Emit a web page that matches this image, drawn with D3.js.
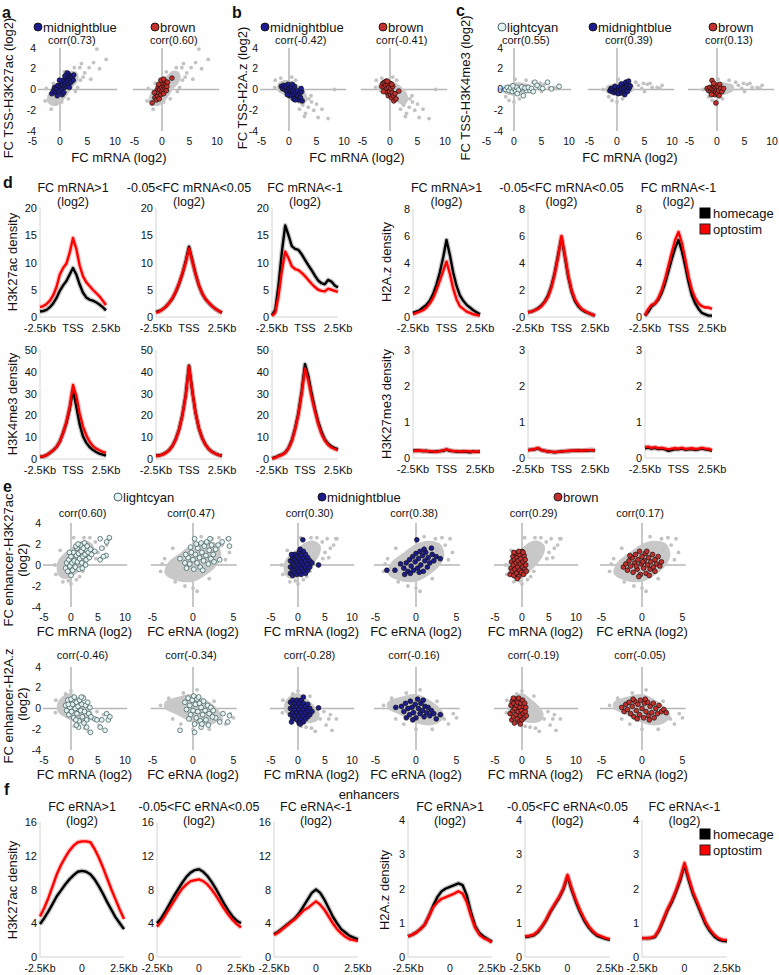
<!DOCTYPE html>
<html><head><meta charset="utf-8">
<script src="https://cdn.jsdelivr.net/npm/d3@7"></script>
<style>body{margin:0;background:#fff}svg{display:block}text{font-family:'Liberation Sans',Arial,sans-serif;fill:#111}</style>
</head><body><script>
// ---------------- DATA ----------------
const kb=[-2.5,-2.25,-2,-1.75,-1.5,-1.25,-1,-0.75,-0.5,-0.25,0,0.25,0.5,0.75,1,1.25,1.5,1.75,2,2.25,2.5];
const mrnaTicks=[-5,0,5,10], ernaTicks=[-5,0,5], fcTicks=[4,2,0,-2,-4];

// panel a (TSS-H3K27ac vs mRNA)
const grayA_cloud=[[-2.2,-1.3],[-1.2,-1.6],[0,-1.4],[1,-0.8],[2,0],[3,0.6],[3.4,1.2],[3,1.7],[2,1.8],[1,1.4],[0,0.8],[-1,0.3],[-2,-0.3],[-2.4,-0.9]];
const grayA_pts=[[3.9,2.5],[6.7,3.9],[8.4,2.9],[5.3,2.1],[6.1,2.6],[5.6,1.0],[4.5,1.6],[3.6,2.1],[4.2,1.2],[-2.7,-1.1],[-1.6,-1.9],[0.3,-1.2],[-0.8,-1.4],[2.8,-0.2],[3.7,0.9],[-2.5,0.1],[1.5,-0.9],[7.2,2.0],[2.6,2.1],[-1.2,0.6],[0.8,1.7],[3.2,0.2]];
const a_mb=[[-1.5,-0.4],[-1.2,-0.1],[-1,0.2],[-0.8,-0.3],[-0.6,0.1],[-0.4,0.4],[-0.2,-0.2],[0,0.3],[0.2,0.6],[0.3,0],[0.5,0.4],[0.6,0.9],[0.8,0.2],[1,0.6],[1.1,1.1],[1.2,0.3],[1.4,0.8],[1.5,1.5],[1.6,0.5],[1.8,1],[1.9,1.3],[2,0.7],[2.2,1.2],[2.4,0.9],[0.4,-0.5],[-0.5,-0.6],[1.3,1.6],[0.9,1.3],[2.5,1.4],[-0.1,0.9],[0.7,-0.3],[1.7,0.2]];
const a_br=[[-1.8,-1.3],[1.8,1.1],[-1.3,-0.8],[-1.1,-0.4],[-1,-1],[-0.9,-0.1],[-0.8,-0.6],[-0.7,0.2],[-0.6,-0.3],[-0.5,-0.9],[-0.4,0],[-0.3,0.4],[-0.2,-0.5],[-0.1,0.2],[0,-0.2],[0.1,0.6],[0.2,0],[0.3,-0.4],[0.4,0.3],[0.5,0.8],[0.6,0.1],[0.7,0.5],[0.8,-0.1],[0.9,0.3],[1.0,0.7],[-1.4,-0.3],[-0.2,0.9],[0.3,1.0],[-0.6,0.5]];
// panel b (TSS-H2A.z vs mRNA)
const grayB_cloud=[[-2,0.6],[-1,0.9],[0.5,0.8],[2,0.3],[3,-0.3],[3.3,-1],[2.5,-1.5],[1.5,-1.3],[0,-0.9],[-1,-0.5],[-2,-0.2]];
const grayB_pts=[[5.0,-1.4],[5.3,-2.7],[7.1,-2.8],[2.5,-1.5],[3.5,-1.7],[1.9,-1.9],[8.3,0],[4.1,-1.2],[4.5,-2.0],[6.0,-1.9],[3.0,-2.3],[-2.5,0.9],[-1.5,1.1],[0.5,1.2],[4.0,-0.6],[2.8,-2.6],[-2.6,0.2],[1.2,0.9],[3.6,-0.9]];
const b_mb=[[-1.4,0.3],[-1.2,0.1],[-1,0.4],[-0.8,0],[-0.6,0.3],[-0.4,-0.2],[-0.2,0.5],[0,0.1],[0.2,-0.3],[0.4,0.2],[0.5,-0.5],[0.7,-0.1],[0.9,-0.6],[1.0,0.3],[1.2,-0.3],[1.3,-0.8],[1.5,-0.1],[1.6,-0.6],[1.8,-1],[2.0,-0.4],[2.1,-0.8],[2.3,-0.2],[2.4,-1.1],[0.8,-0.9],[0.1,-0.6],[-0.3,-0.5],[1.1,-1.0],[2.2,0.1],[0.6,0.5]];
const b_br=[[-1.5,0.3],[-1.3,0.6],[-1.1,0.2],[-1.0,0.7],[-0.9,-0.1],[-0.8,0.4],[-0.7,0.8],[-0.6,0.1],[-0.5,-0.3],[-0.4,0.5],[-0.3,-0.6],[-0.2,0.2],[-0.1,-0.2],[0,0.6],[0.1,-0.5],[0.2,0.1],[0.3,-0.8],[0.4,-0.3],[0.5,0.3],[0.6,-0.6],[0.7,-1.1],[0.9,-0.4],[1.1,-0.9],[1.6,-0.15],[-0.5,0.8],[-1.2,-0.2],[0.3,0.5]];
// panel c (TSS-H3K4me3 vs mRNA)
const grayC_cloud=[[-2,-0.3],[-1,-0.5],[0.5,-0.6],[2,-0.4],[3,-0.1],[3,0.4],[2,0.6],[0.5,0.7],[-1,0.5],[-2,0.3]];
const grayC_pts=[[3.9,0.4],[5.5,0.5],[6.4,0.2],[8.2,0.4],[4.5,0.1],[7.3,0.2],[-0.9,-1.05],[0,-1.2],[3.4,0.7],[5,-0.2],[6,0.6],[-2.5,0],[1,-0.9],[2.2,0.9],[7.8,0.1],[4.8,0.6],[0.2,1.0],[-1.5,-0.7]];
const c_lc=[[1.1,0.06],[2.3,-0.1],[3.8,0.7],[4.7,0.2],[6.1,0.7],[6.8,0.06],[8.2,0.3],[1.7,-0.6],[2.9,-0.1],[-1.5,0],[-1.2,0.2],[-0.9,-0.1],[-0.6,0.15],[-0.3,-0.2],[0,0.1],[0.3,-0.15],[0.5,0.2],[0.8,-0.05],[1.4,0.25],[2.0,0.15],[2.6,0.2],[3.2,0.1],[3.5,-0.2],[4.2,0.4],[5.2,0.1],[0.6,-0.4],[-0.2,0.35]];
const c_mb=[[-1.3,-0.1],[-1.1,0.1],[-0.9,-0.2],[-0.7,0.05],[-0.5,-0.3],[-0.3,0.1],[-0.1,-0.15],[0.1,0.2],[0.3,-0.05],[0.5,0.25],[0.7,0],[0.9,0.35],[1.1,0.1],[1.3,0.5],[1.5,0.2],[1.6,0.7],[1.8,0.3],[2.0,0.5],[2.2,0.1],[2.4,0.35],[1.2,-0.3],[0.6,-0.35],[1.9,-0.2],[2.1,0.8],[0.2,-0.4],[-0.4,0.3],[1.4,-0.5],[0.8,0.55]];
const c_br=[[-1.8,0.1],[-1.5,-0.1],[-1.3,0.2],[-1.1,-0.2],[-0.9,0.87],[-0.9,0.1],[-0.7,-0.3],[-0.6,0.3],[-0.5,0],[-0.4,-0.5],[-0.3,0.2],[-0.2,-0.2],[-0.1,0.4],[0,0],[0.1,-0.4],[0.2,0.2],[0.3,-0.1],[0.5,0.5],[0.7,0.1],[0.9,-0.2],[1.2,0.1],[-0.2,-1.3],[-0.6,0.6],[0.4,-0.6],[-1.0,-0.5]];
const corrTop=["corr(0.73)","corr(0.60)","corr(-0.42)","corr(-0.41)","corr(0.55)","corr(0.39)","corr(0.13)"];

// panel e, H3K27ac row
const grayE1m_cloud=[[-2.5,-0.8],[-1.5,-1.3],[0,-1.2],[1.5,-0.6],[3,0.2],[4,1],[4.2,1.8],[3,2.3],[1.5,2.2],[0,1.6],[-1.5,1.0],[-2.5,0.3]];
const grayE1m_pts=[[0,-1.8],[-0.5,-1.5],[-1.5,-1.6],[5.4,2.5],[7,2.5],[6,1.6],[5.7,0.7],[6.6,1.9],[4.5,2.2],[0.5,2.6],[-2,1.4],[1,-1.4],[5,1.2],[3.5,2.6],[2.2,-0.6],[-3,0],[7.2,2.5],[4.6,0.6],[-2.8,-0.9],[2.4,2.6],[1.6,-1.1]];
const grayE1e_cloud=[[-3.5,-0.8],[-2,-1.5],[0,-1.6],[1.5,-1],[3,0],[3.5,1],[3,2],[1.5,2.3],[0,2],[-1.5,1.2],[-3,0.3]];
const grayE1e_pts=[[-4,-0.6],[-3.5,0.6],[4.2,2.5],[3.6,1.9],[2.6,1.4],[4.5,1.2],[0,-2.2],[-1,-2.0],[1,2.7],[-2.5,1.6],[2,-1.3],[4,0.5],[0.5,-2.5],[3.2,2.6],[-2.2,-1.6],[-3.8,0.1],[2.4,2.5]];
const e1_lc_m=[[5.4,2.5],[5.7,1.6],[7.1,2.6],[6.6,2.2],[6.5,0.9],[5.4,0.5],[6.0,0.8],[4.4,1.3],[2.9,1.4],[-1.0,-0.3],[-0.8,0.2],[-0.6,-0.6],[-0.4,0.5],[-0.2,-0.1],[0,0.8],[0.2,0.2],[0.3,-0.5],[0.5,1.2],[0.6,0.4],[0.8,-0.2],[1.0,0.9],[1.1,1.6],[1.2,0.3],[1.4,1.1],[1.5,-0.4],[1.6,0.6],[1.8,1.9],[1.9,1.3],[2.0,0.2],[2.2,0.8],[2.3,1.6],[2.5,2.1],[2.6,1.0],[2.8,0.5],[3.0,1.8],[3.2,1.2],[3.4,0.7],[3.6,1.5],[3.8,1.0],[0.0,-1.0],[0.9,1.8],[2.1,-0.3],[-0.3,1.2],[1.3,2.0],[2.7,0.0]];
const e1_lc_e=[[-1.6,0.6],[3.1,1.9],[3.6,2.2],[4.5,1.8],[4.4,2.5],[3.3,0.5],[2.5,1.0],[-1.0,0.2],[-0.8,-0.3],[-0.6,0.7],[-0.4,0.1],[-0.2,1.2],[0,0.5],[0.1,-0.4],[0.2,2.5],[0.3,1.0],[0.5,0.2],[0.6,1.6],[0.8,0.7],[0.9,-0.2],[1.0,2.1],[1.1,1.2],[1.3,0.4],[1.4,1.8],[1.6,0.9],[1.7,2.2],[1.9,0.1],[2.0,1.4],[2.2,0.6],[2.3,1.9],[2.6,0.3],[2.8,1.5],[0.4,2.0],[-0.3,1.7],[1.2,-0.5],[-0.9,1.0],[2.1,2.5]];
const e1_mb_m=[[-1.4,-0.8],[-1.4,-0.2],[-1.4,0.4],[-1.0,-1.0],[-1.0,-0.5],[-1.0,0.1],[-1.0,0.7],[-0.6,-0.7],[-0.6,-0.1],[-0.6,0.5],[-0.6,1.0],[-0.2,-0.9],[-0.2,-0.3],[-0.2,0.3],[-0.2,0.8],[0.2,-0.6],[0.2,0],[0.2,0.6],[0.2,1.2],[0.6,-0.9],[0.6,-0.3],[0.6,0.3],[0.6,0.9],[1.0,-0.6],[1.0,0],[1.0,0.6],[1.0,1.3],[1.4,-0.8],[1.4,-0.2],[1.4,0.4],[1.4,1.0],[1.8,-0.5],[1.8,0.1],[1.8,0.7],[2.2,-0.2],[2.2,0.4],[0.9,2.4],[3.8,0],[-1.2,1.0],[0.4,1.5],[2.6,0.2]];
const e1_mb_e=[[-1.5,-0.3],[-1.2,0.2],[-1.0,-0.6],[-0.8,0.5],[-0.6,-0.1],[-0.4,0.8],[-0.3,-0.5],[-0.1,0.3],[0,1.1],[0.2,-0.3],[0.3,0.6],[0.5,1.3],[0.6,0],[0.8,0.9],[0.9,-0.6],[1.1,0.4],[1.2,1.2],[1.4,-0.2],[1.5,0.7],[1.7,0.2],[2.0,1.0],[2.2,0.4],[2.5,0.8],[3.0,0.6],[-0.7,-0.8],[0.4,-0.7],[1.0,1.5],[-1.9,0.1],[0.1,2.4],[-2.6,-0.5],[-1.4,-0.9],[1.9,1.6],[-3.6,-0.5]];
const e1_br_m=[[-2.2,-0.9],[-2.0,-0.3],[-1.9,0.3],[-1.8,-0.6],[-1.7,0.8],[-1.6,0.0],[-1.5,-1.0],[-1.4,0.5],[-1.3,-0.4],[-1.2,1.1],[-1.1,0.2],[-1.0,-0.8],[-0.9,0.7],[-0.8,-0.2],[-0.7,0.4],[-0.6,-1.1],[-0.5,1.0],[-0.4,-0.5],[-0.3,0.1],[-0.2,0.6],[-0.1,-0.7],[0,1.3],[0.1,-0.2],[0.2,0.3],[0.3,-0.9],[0.4,0.9],[0.5,-0.4],[0.6,0.5],[0.7,0],[0.8,-0.6],[-0.6,1.3],[0.2,1.2],[-1.5,1.2],[-0.9,-1.3]];
const e1_br_e=[[-2.3,-0.2],[-2.0,0.1],[-1.8,-0.5],[-1.6,0.4],[-1.4,-0.1],[-1.2,0.7],[-1.1,-0.7],[-0.9,0.2],[-0.8,1.0],[-0.6,-0.4],[-0.5,0.5],[-0.3,1.3],[-0.2,-0.9],[-0.1,0.1],[0,0.8],[0.2,-0.3],[0.3,0.4],[0.4,1.1],[0.5,-0.8],[0.7,0],[0.8,0.7],[1.0,-0.4],[1.1,0.3],[1.3,1.0],[1.4,-0.2],[1.6,0.5],[1.8,0.1],[2.0,0.8],[2.2,-0.1],[2.4,0.3],[-0.4,-1.1],[0.9,-1.0],[-1.5,0.9],[0.6,1.3],[1.6,-0.6],[-0.7,-0.1],[0.1,0.3]];
const corrE1=["corr(0.60)","corr(0.47)","corr(0.30)","corr(0.38)","corr(0.29)","corr(0.17)"];

// panel e, H2A.z row
const grayE2m_cloud=[[-2.5,0.5],[-1.5,1.2],[0,1.5],[1.5,1],[3,0.3],[4,-0.5],[3.5,-1.2],[2,-1.4],[0.5,-1.3],[-1,-0.9],[-2.5,-0.3]];
const grayE2m_pts=[[0,1.7],[4.1,-1.0],[5.7,-1.0],[5.2,-1.6],[6.3,-2.1],[7.1,-1.0],[3.2,-2.2],[-2.8,0.8],[1.5,-1.8],[4.8,-0.3],[6.0,-0.6],[2.5,-1.9],[-1,1.4],[-2.9,-0.4],[2.2,1.2],[0.6,-1.7]];
const grayE2e_cloud=[[-3.5,0.6],[-2,1.1],[0,1.4],[1.5,0.9],[3,0],[3.5,-0.8],[2.5,-1.5],[1,-1.6],[-0.5,-1.2],[-2,-0.6],[-3.5,0]];
const grayE2e_pts=[[-4,0.3],[4,-1.5],[3.5,-1],[4.6,-0.5],[0,-2.0],[-1.5,-1.5],[0.5,1.8],[-3,1.0],[2,-2],[5.0,-0.9],[-2.5,-1],[-1.2,1.5],[2.6,0.7]];
const e2_lc_m=[[1.4,-1.8],[2.9,-1.8],[3.6,-2.3],[4.4,-1.0],[5.4,-1.8],[5.7,-1.1],[6.6,-0.5],[6.9,-1.1],[7.2,-0.8],[6.3,-2.1],[4.8,-1.1],[1.0,-1.6],[-1.0,0.3],[-0.8,-0.2],[-0.6,0.8],[-0.4,-0.6],[-0.2,0.1],[0,0.9],[0.1,-0.3],[0.3,0.4],[0.5,-0.9],[0.6,1.1],[0.8,0.0],[1.0,0.6],[1.1,-0.5],[1.3,0.2],[1.5,-1.2],[1.6,0.8],[1.8,-0.2],[2.0,0.4],[2.1,-0.8],[2.3,1.0],[2.5,-0.3],[2.7,0.3],[2.9,-1.1],[3.1,0.6],[3.3,-0.5],[3.5,0.1],[3.7,-0.8],[2.4,-1.4],[0.9,-1.1],[-0.5,0.4],[1.9,1.1]];
const e2_lc_e=[[-1.6,-2.1],[0.2,-2.3],[1.0,-1.8],[1.9,-1.6],[2.8,-0.9],[3.3,-1.3],[4.5,-0.7],[4.3,-1.3],[3.7,-0.5],[-1.0,0.6],[-0.8,-0.1],[-0.6,1.0],[-0.4,0.3],[-0.3,-0.6],[-0.1,0.8],[0,-0.2],[0.1,1.2],[0.3,0.4],[0.4,-0.9],[0.5,0.9],[0.6,-0.3],[0.8,0.5],[0.9,-1.2],[1.0,0.1],[1.2,-0.6],[1.3,0.7],[1.5,-0.2],[1.6,-1.1],[1.8,0.3],[2.0,-0.5],[2.2,0.1],[2.4,-0.8],[2.5,-0.2],[0.2,-1.5],[-0.5,-1.0],[1.1,-1.5],[0.7,1.1]];
const e2_mb_m=[[-1.4,0.6],[-1.4,0],[-1.4,-0.6],[-1.0,0.8],[-1.0,0.2],[-1.0,-0.4],[-1.0,-1.0],[-0.6,0.5],[-0.6,-0.1],[-0.6,-0.7],[-0.2,0.8],[-0.2,0.2],[-0.2,-0.4],[-0.2,-1.1],[0.2,0.5],[0.2,-0.1],[0.2,-0.7],[0.2,-1.4],[0.6,0.8],[0.6,0.2],[0.6,-0.4],[0.6,-1.0],[1.0,0.5],[1.0,-0.1],[1.0,-0.7],[1.0,-1.3],[1.4,0.2],[1.4,-0.4],[1.4,-1.0],[1.8,0.4],[1.8,-0.2],[1.8,-0.8],[2.2,0],[2.2,-0.6],[2.6,-0.3],[1.0,1.1],[3.8,0.06],[-1.2,-1.3],[0.4,-1.5]];
const e2_mb_e=[[-1.8,0.2],[-1.5,-0.3],[-1.3,0.5],[-1.0,0],[-0.8,-0.6],[-0.7,0.7],[-0.5,0.1],[-0.3,-0.4],[-0.1,0.4],[0,-0.9],[0.2,0.9],[0.3,0],[0.5,-0.5],[0.6,0.5],[0.8,-0.2],[1.0,-0.8],[1.1,0.2],[1.3,-0.4],[1.5,0.1],[1.7,-0.7],[1.9,-0.2],[2.2,-0.5],[2.5,-1.0],[-2.5,0.1],[-0.4,-1.1],[0.9,0.8],[3.0,-0.6],[-1.2,-0.9]];
const e2_br_m=[[-2.2,-0.5],[-2.0,0.3],[-1.9,-1.1],[-1.8,0.7],[-1.7,-0.2],[-1.6,-0.8],[-1.5,0.5],[-1.4,-1.4],[-1.3,0.0],[-1.2,0.9],[-1.1,-0.6],[-1.0,0.3],[-0.9,-1.0],[-0.8,0.6],[-0.7,-0.3],[-0.6,1.0],[-0.5,-1.3],[-0.4,0.1],[-0.3,-0.7],[-0.2,0.5],[-0.1,-0.2],[0,-1.1],[0.1,0.8],[0.2,-0.5],[0.3,0.2],[0.4,-0.9],[0.5,0.5],[0.6,-0.3],[0.7,0.1],[0.8,-0.7],[-1.6,1.0],[-0.3,-1.5]];
const e2_br_e=[[-2.5,0.1],[-2.2,-0.3],[-2.0,0.4],[-1.8,-0.1],[-1.6,0.6],[-1.4,-0.5],[-1.2,0.2],[-1.0,-0.8],[-0.9,0.7],[-0.7,-0.2],[-0.5,0.4],[-0.3,-0.6],[-0.2,0.8],[0,0],[0.2,-0.9],[0.3,0.5],[0.5,-0.3],[0.7,0.6],[0.8,-0.7],[1.0,0.2],[1.2,-0.4],[1.4,0.5],[1.5,-0.9],[1.7,0],[1.9,-0.5],[2.1,0.3],[2.4,-0.3],[2.7,-0.1],[3.0,-0.4],[-0.6,-1.0],[0.9,-1.1],[-1.1,0.9],[0.4,0.9]];
const corrE2=["corr(-0.46)","corr(-0.34)","corr(-0.28)","corr(-0.16)","corr(-0.19)","corr(-0.05)"];

// panel d profiles (TSS, -2.5..2.5 kb)
const dTitles=[["FC mRNA>1","(log2)"],["-0.05<FC mRNA<0.05","(log2)"],["FC mRNA<-1","(log2)"]];
const k27_up_home=[1.0,1.1,1.3,1.8,2.5,3.5,4.8,5.8,6.6,7.8,9.0,7.8,6.0,4.5,3.6,3.2,3.0,2.7,2.3,1.8,1.2];
const k27_up_opto=[1.8,2.0,2.4,3.0,4.0,5.5,7.8,9.0,9.8,11.8,14.5,12.5,9.5,7.5,6.4,5.7,5.0,4.4,3.8,3.0,2.2];
const k27_mid_home=[0.9,1.1,1.4,1.9,2.6,3.4,4.6,6.1,7.9,10.2,12.9,10.4,7.9,5.8,4.3,3.3,2.6,2.0,1.5,1.1,0.8];
const k27_mid_opto=[0.8,1.0,1.4,1.9,2.6,3.5,4.7,6.2,8.0,10.0,12.6,10.2,7.8,5.8,4.3,3.3,2.6,2.0,1.5,1.1,0.8];
const k27_dn_home=[0.3,1.3,6,12,16.8,15,13,12.5,12.3,11.5,10.5,9.5,8.6,7.6,6.7,6.2,6.0,6.8,6.5,5.8,5.4];
const k27_dn_opto=[0.2,0.8,4,8.5,12,10.8,9.3,8.8,8.6,8.1,7.5,6.8,6.1,5.5,5.0,4.8,4.7,5.2,5.0,4.8,4.6];
const h2az_up_home=[0.3,0.4,0.5,0.7,0.9,1.2,1.7,2.4,3.3,4.4,5.7,4.6,3.3,2.3,1.6,1.2,0.9,0.7,0.5,0.35,0.2];
const h2az_up_opto=[0.2,0.3,0.4,0.5,0.7,1.0,1.4,2.0,2.7,3.4,4.1,3.2,2.1,1.3,0.8,0.6,0.4,0.3,0.2,0.15,0.1];
const h2az_mid_home=[0.35,0.4,0.5,0.65,0.85,1.15,1.6,2.3,3.3,4.6,5.9,4.5,3.0,1.9,1.2,0.8,0.55,0.4,0.3,0.2,0.1];
const h2az_mid_opto=[0.35,0.4,0.5,0.6,0.8,1.1,1.5,2.2,3.2,4.5,6.0,4.6,3.1,2.0,1.3,0.9,0.6,0.45,0.3,0.2,0.1];
const h2az_dn_home=[0.1,0.4,0.8,1.0,1.3,1.8,2.5,3.4,4.3,5.1,5.7,4.9,3.8,2.6,1.6,1.0,0.6,0.3,0.2,0.1,0.1];
const h2az_dn_opto=[0.1,0.6,0.9,1.0,1.4,2.0,2.8,3.8,4.8,5.7,6.3,5.5,4.3,3.0,2.0,1.4,1.0,0.8,0.7,0.7,0.6];
const k4_up_home=[1,1.2,1.8,2.8,4,5.5,8,12,16.5,23,31.5,24,16,10.5,7.5,5.5,4.2,3.2,2.5,2,1.5];
const k4_up_opto=[1,1.2,1.8,2.8,4,5.5,8,12,17,24,34,29,21,15,11,8,6,4.8,4,3.3,2.8];
const k4_mid_home=[1.5,1.7,2.1,2.9,4.1,6.1,9.1,13.6,20.2,29.3,42.8,31.2,21.1,14.1,9.6,6.6,4.6,3.3,2.5,1.9,1.5];
const k4_mid_opto=[1.4,1.6,2.0,2.8,4,6,9,13.5,20,29,42.5,31,21,14,9.5,6.5,4.5,3.2,2.4,1.8,1.4];
const k4_dn_home=[0.3,0.8,1.5,2.0,3.0,5.0,8.5,14,21,31,43.5,38,30,23,17,12.5,9,7,5.8,5,4.5];
const k4_dn_opto=[0.2,0.6,1.3,1.9,2.8,4.8,8.2,13.5,20.5,30,41.5,36,28.5,22,16,11.5,8.5,6.5,5.3,4.6,4.0];
const k27me3_up_home=[0.2,0.21,0.2,0.19,0.2,0.18,0.17,0.18,0.19,0.2,0.23,0.2,0.19,0.18,0.17,0.18,0.17,0.16,0.18,0.17,0.18];
const k27me3_up_opto=[0.19,0.2,0.21,0.2,0.19,0.19,0.18,0.17,0.19,0.21,0.24,0.21,0.19,0.19,0.18,0.18,0.19,0.18,0.17,0.18,0.18];
const k27me3_mid_home=[0.22,0.23,0.24,0.27,0.22,0.2,0.18,0.17,0.16,0.17,0.18,0.19,0.19,0.2,0.2,0.21,0.2,0.21,0.21,0.22,0.21];
const k27me3_mid_opto=[0.22,0.23,0.25,0.28,0.22,0.2,0.18,0.17,0.17,0.17,0.18,0.19,0.2,0.2,0.21,0.21,0.2,0.21,0.22,0.22,0.21];
const k27me3_dn_home=[0.27,0.29,0.26,0.28,0.25,0.26,0.24,0.2,0.22,0.25,0.24,0.26,0.23,0.24,0.25,0.23,0.24,0.26,0.24,0.23,0.2];
const k27me3_dn_opto=[0.3,0.31,0.28,0.3,0.27,0.28,0.26,0.24,0.26,0.27,0.26,0.28,0.25,0.26,0.27,0.25,0.26,0.28,0.26,0.25,0.22];

// panel f profiles (enhancers)
const fTitles=[["FC eRNA>1","(log2)"],["-0.05<FC eRNA<0.05","(log2)"],["FC eRNA<-1","(log2)"]];
const fk27_up_home=[3.9,4.6,5.4,6.3,7.2,7.9,8.6,9.2,9.7,10.1,10.2,10.1,9.8,9.2,8.4,7.5,6.5,5.6,4.7,4.0,3.3];
const fk27_up_opto=[4.8,5.8,7.0,8.4,9.8,10.9,11.8,12.6,13.2,13.6,13.7,13.7,13.6,12.8,11.8,10.6,9.3,8.0,6.8,5.6,4.5];
const fk27_mid_home=[4.0,4.6,5.4,6.3,7.2,8.0,8.8,9.5,10.0,10.3,10.4,10.1,9.6,8.9,8.1,7.2,6.3,5.5,4.8,4.3,4.0];
const fk27_mid_opto=[3.6,4.2,5.0,5.8,6.6,7.4,8.1,8.6,9.0,9.1,9.2,9.0,8.6,8.0,7.3,6.5,5.7,5.0,4.4,3.9,3.5];
const fk27_dn_home=[2.7,3.0,3.4,3.8,4.2,4.6,5.2,6.0,6.8,7.6,8.0,7.6,6.8,5.8,4.8,4.0,3.3,2.9,2.5,2.3,2.1];
const fk27_dn_opto=[2.6,2.9,3.3,3.7,4.1,4.5,5.0,5.5,5.8,6.2,6.6,6.2,5.6,4.8,4.0,3.3,2.8,2.4,2.1,2.0,1.9];
const fh2az_up_home=[0.6,0.65,0.72,0.82,0.95,1.2,1.5,1.75,1.92,2.0,2.05,2.1,2.15,2.1,1.8,1.3,0.9,0.7,0.6,0.52,0.45];
const fh2az_up_opto=[0.6,0.65,0.72,0.82,0.95,1.2,1.45,1.6,1.7,1.75,1.8,1.85,1.92,1.85,1.6,1.2,0.85,0.65,0.55,0.5,0.42];
const fh2az_mid_home=[0.58,0.6,0.63,0.72,0.88,1.08,1.32,1.52,1.72,1.97,2.35,1.95,1.6,1.3,1.05,0.86,0.72,0.62,0.57,0.53,0.5];
const fh2az_mid_opto=[0.6,0.62,0.65,0.75,0.9,1.1,1.35,1.55,1.75,2.0,2.4,2.0,1.65,1.35,1.1,0.9,0.75,0.65,0.6,0.55,0.52];
const fh2az_dn_home=[0.55,0.55,0.55,0.58,0.77,1.06,1.36,1.6,1.9,2.24,2.68,2.24,1.84,1.54,1.24,0.95,0.75,0.6,0.51,0.47,0.46];
const fh2az_dn_opto=[0.55,0.55,0.56,0.6,0.8,1.1,1.4,1.65,1.95,2.3,2.75,2.3,1.9,1.6,1.3,1.0,0.8,0.65,0.55,0.5,0.5];

// ---------------- DRAWING ----------------
const W=779,H=975;
const svg=d3.select("body").append("svg").attr("width",W).attr("height",H);
const MB="#1c1c8e", BR="#c4302c", LC="#e4f2f2";
function txt(g,x,y,s,o={}){
  const t=g.append("text").attr("x",x).attr("y",y).text(s)
    .attr("font-size",o.size||13).attr("text-anchor",o.anchor||"start");
  if(o.bold)t.attr("font-weight","bold");
  if(o.rot)t.attr("transform",`rotate(-90,${x},${y})`);
  return t;
}
function legendDot(x,y,label,fill,stroke){
  svg.append("circle").attr("cx",x).attr("cy",y).attr("r",4).attr("fill",fill).attr("stroke",stroke).attr("stroke-width",0.9);
  txt(svg,x+5,y+5,label,{size:13});
}
function scatter(o){
  const x=d3.scaleLinear().domain(o.xdom).range([o.z+o.k*o.xdom[0],o.z+o.k*o.xdom[1]]);
  const y=d3.scaleLinear().domain([-4,4]).range(o.yr);
  const g=svg.append("g");
  g.append("line").attr("x1",x(o.h0)).attr("x2",x(o.xdom[1]+0.4)).attr("y1",y(0)).attr("y2",y(0))
    .attr("stroke","#b6b6b6").attr("stroke-width",1.5);
  g.append("line").attr("x1",x(0)).attr("x2",x(0)).attr("y1",y(4)).attr("y2",y(-4))
    .attr("stroke","#b6b6b6").attr("stroke-width",1.5);
  g.append("path").attr("d",d3.line().x(d=>x(d[0])).y(d=>y(d[1])).curve(d3.curveCatmullRomClosed)(o.cloud))
    .attr("fill","#c8c8c8");
  g.selectAll(null).data(o.gpts).join("circle").attr("cx",d=>x(d[0])).attr("cy",d=>y(d[1])).attr("r",1.9).attr("fill","#c2c2c2");
  g.selectAll(null).data(o.pts).join("circle").attr("cx",d=>x(d[0])).attr("cy",d=>y(d[1])).attr("r",2.4)
    .attr("fill",o.fill).attr("stroke",o.stroke).attr("stroke-width",0.7);
  o.xt.forEach(v=>txt(g,x(v),o.yr[0]+14,String(v),{size:10.5,anchor:"middle"}));
  if(o.ytx!=null) fcTicks.forEach(v=>txt(g,o.ytx,y(v)+3.5,String(v),{size:10.5,anchor:"end"}));
  txt(g,(x(o.xdom[0])+x(o.xdom[1]))/2-2,o.corrY,o.corr,{size:11,anchor:"middle"});
  if(o.xtitle) txt(g,(x(o.xdom[0])+x(o.xdom[1]))/2,o.xtitleY,o.xtitle,{size:13,anchor:"middle"});
}
function profile(o){
  const x=d3.scaleLinear().domain([-2.5,2.5]).range([o.x0,o.x1]);
  const y=d3.scaleLinear().domain([0,o.max]).range([o.yb,o.yt]);
  const g=svg.append("g");
  g.append("line").attr("x1",o.x0).attr("x2",o.x0).attr("y1",o.yb).attr("y2",o.yt).attr("stroke","#d4d4d4");
  g.append("line").attr("x1",o.x0).attr("x2",o.x1).attr("y1",o.yb).attr("y2",o.yb).attr("stroke","#d4d4d4");
  o.ticks.forEach(v=>txt(g,o.x0-3,y(v)+4,String(v),{size:11,anchor:"end"}));
  o.xl.forEach((s,i)=>txt(g,x([-2.5,0,2.5][i]),o.yb+15,s,{size:o.xlSize||11,anchor:"middle"}));
  const line=d3.line().x((d,i)=>x(kb[i])).y(d=>y(d));
  [[o.home,"#000"],[o.opto,"#f00"]].forEach(([s,c])=>{
    g.append("path").attr("d",line(s)).attr("fill","none").attr("stroke",c).attr("stroke-opacity",0.22).attr("stroke-width",5).attr("stroke-linejoin","round");
  });
  [[o.home,"#000"],[o.opto,"#f00"]].forEach(([s,c])=>{
    g.append("path").attr("d",line(s)).attr("fill","none").attr("stroke",c).attr("stroke-width",2.4).attr("stroke-linejoin","round");
  });
  if(o.title){
    txt(g,(o.x0+o.x1)/2,o.titleY,o.title[0],{size:12.5,anchor:"middle"});
    txt(g,(o.x0+o.x1)/2,o.titleY+13.5,o.title[1],{size:12.5,anchor:"middle"});
  }
}
function legendBox(x,y){
  svg.append("rect").attr("x",x).attr("y",y).attr("width",10).attr("height",10).attr("fill","#000").attr("stroke","#000");
  txt(svg,x+13,y+10,"homecage",{size:13});
  svg.append("rect").attr("x",x).attr("y",y+16).attr("width",10).attr("height",10).attr("fill","#f00").attr("stroke","#222");
  txt(svg,x+13,y+26,"optostim",{size:13});
}

// panel letters
txt(svg,2,18,"a",{size:16,bold:true});
txt(svg,232,18,"b",{size:16,bold:true});
txt(svg,456,16,"c",{size:16,bold:true});
txt(svg,3,188,"d",{size:16,bold:true});
txt(svg,3,492,"e",{size:16,bold:true});
txt(svg,4,795,"f",{size:16,bold:true});

// ---- top row a,b,c ----
const topY=[131,48];
const topPlots=[
 {z:60,cloud:grayA_cloud,gpts:grayA_pts,pts:a_mb,fill:MB,stroke:"#111",ytx:36,h0:-4},
 {z:162,cloud:grayA_cloud,gpts:grayA_pts,pts:a_br,fill:BR,stroke:"#111",h0:-5.3},
 {z:289,cloud:grayB_cloud,gpts:grayB_pts,pts:b_mb,fill:MB,stroke:"#111",ytx:258,h0:-5.3},
 {z:390,cloud:grayB_cloud,gpts:grayB_pts,pts:b_br,fill:BR,stroke:"#111",h0:-5.3},
 {z:514,cloud:grayC_cloud,gpts:grayC_pts,pts:c_lc,fill:LC,stroke:"#3a5656",ytx:503,h0:-2.1},
 {z:617,cloud:grayC_cloud,gpts:grayC_pts,pts:c_mb,fill:MB,stroke:"#111",h0:-5.3},
 {z:717,cloud:grayC_cloud,gpts:grayC_pts,pts:c_br,fill:BR,stroke:"#111",h0:-5.3}];
topPlots.forEach((p,i)=>scatter(Object.assign({k:5.5,xdom:[-5,10],yr:topY,xt:mrnaTicks,corr:corrTop[i],corrY:44},p)));
legendDot(38,27,"midnightblue",MB,"#111");
legendDot(155,27,"brown",BR,"#111");
legendDot(265,27,"midnightblue",MB,"#111");
legendDot(383,27,"brown",BR,"#111");
legendDot(502,27,"lightcyan",LC,"#3a5656");
legendDot(593,27,"midnightblue",MB,"#111");
legendDot(713,27,"brown",BR,"#111");
txt(svg,119,162,"FC mRNA (log2)",{anchor:"middle"});
txt(svg,357,162,"FC mRNA (log2)",{anchor:"middle"});
txt(svg,630,162,"FC mRNA (log2)",{anchor:"middle"});
txt(svg,13,88,"FC TSS-H3K27ac (log2)",{anchor:"middle",rot:true});
txt(svg,247,88,"FC TSS-H2A.z (log2)",{anchor:"middle",rot:true});
txt(svg,470,88,"FC TSS-H3K4me3 (log2)",{anchor:"middle",rot:true});

// ---- panel d ----
const dLeftX=[[40,106],[156,222],[272,338]], dRightX=[[413,480],[528,595],[645,712]];
const dxl=["-2.5Kb","TSS","2.5Kb"];
const dr1L=[[k27_up_home,k27_up_opto],[k27_mid_home,k27_mid_opto],[k27_dn_home,k27_dn_opto]];
const dr1R=[[h2az_up_home,h2az_up_opto],[h2az_mid_home,h2az_mid_opto],[h2az_dn_home,h2az_dn_opto]];
const dr2L=[[k4_up_home,k4_up_opto],[k4_mid_home,k4_mid_opto],[k4_dn_home,k4_dn_opto]];
const dr2R=[[k27me3_up_home,k27me3_up_opto],[k27me3_mid_home,k27me3_mid_opto],[k27me3_dn_home,k27me3_dn_opto]];
for(let i=0;i<3;i++){
  profile({x0:dLeftX[i][0],x1:dLeftX[i][1],yb:317,yt:208,max:20,ticks:[0,5,10,15,20],xl:dxl,home:dr1L[i][0],opto:dr1L[i][1],title:dTitles[i],titleY:192});
  profile({x0:dRightX[i][0],x1:dRightX[i][1],yb:317,yt:209,max:8,ticks:[0,2,4,6,8],xl:dxl,home:dr1R[i][0],opto:dr1R[i][1],title:dTitles[i],titleY:192});
  profile({x0:dLeftX[i][0],x1:dLeftX[i][1],yb:459,yt:350,max:50,ticks:[0,10,20,30,40,50],xl:dxl,home:dr2L[i][0],opto:dr2L[i][1]});
  profile({x0:dRightX[i][0],x1:dRightX[i][1],yb:458,yt:350,max:3,ticks:[0,1,2,3],xl:dxl,home:dr2R[i][0],opto:dr2R[i][1]});
}
legendBox(700,208);
txt(svg,17,262,"H3K27ac density",{anchor:"middle",rot:true});
txt(svg,17,404,"H3K4me3 density",{anchor:"middle",rot:true});
txt(svg,391,262,"H2A.z density",{anchor:"middle",rot:true});
txt(svg,391,404,"H3K27me3 density",{anchor:"middle",rot:true});

// ---- panel e ----
const eZ=[71,193,298,416,522,642];
const eIsM=[true,false,true,false,true,false];
const e1Pts=[e1_lc_m,e1_lc_e,e1_mb_m,e1_mb_e,e1_br_m,e1_br_e];
const e2Pts=[e2_lc_m,e2_lc_e,e2_mb_m,e2_mb_e,e2_br_m,e2_br_e];
const eFill=[LC,LC,MB,MB,BR,BR], eStroke=["#3a5656","#3a5656","#111","#111","#111","#111"];
for(let i=0;i<6;i++){
  const m=eIsM[i];
  const base={z:eZ[i],k:m?5.4:8.1,xdom:m?[-5,10]:[-5,5],xt:m?mrnaTicks:ernaTicks,h0:-5.2,fill:eFill[i],stroke:eStroke[i],ytx:i===0?41:null,xtitle:m?"FC mRNA (log2)":"FC eRNA (log2)"};
  scatter(Object.assign({},base,{yr:[607,523],cloud:m?grayE1m_cloud:grayE1e_cloud,gpts:m?grayE1m_pts:grayE1e_pts,pts:e1Pts[i],corr:corrE1[i],corrY:517,xtitleY:636}));
  scatter(Object.assign({},base,{yr:[750,667],cloud:m?grayE2m_cloud:grayE2e_cloud,gpts:m?grayE2m_pts:grayE2e_pts,pts:e2Pts[i],corr:corrE2[i],corrY:659,xtitleY:779}));
}
legendDot(118,497,"lightcyan",LC,"#3a5656");
legendDot(322,497,"midnightblue",MB,"#111");
legendDot(558,497,"brown",BR,"#111");
txt(svg,13,560,"FC enhancer-H3K27ac",{anchor:"middle",rot:true});
txt(svg,27,560,"(log2)",{anchor:"middle",rot:true});
txt(svg,13,706,"FC enhancer-H2A.z",{anchor:"middle",rot:true});
txt(svg,27,704,"(log2)",{anchor:"middle",rot:true});

// ---- panel f ----
const fLeftX=[[40,124],[157,241],[274,358]], fRightX=[[408,492],[525,610],[642,727]];
const fxl=["-2.5Kb","0","2.5Kb"];
const fL=[[fk27_up_home,fk27_up_opto],[fk27_mid_home,fk27_mid_opto],[fk27_dn_home,fk27_dn_opto]];
const fR=[[fh2az_up_home,fh2az_up_opto],[fh2az_mid_home,fh2az_mid_opto],[fh2az_dn_home,fh2az_dn_opto]];
for(let i=0;i<3;i++){
  profile({x0:fLeftX[i][0],x1:fLeftX[i][1],yb:957,yt:822,max:16,ticks:[0,4,8,12,16],xl:fxl,xlSize:10.5,home:fL[i][0],opto:fL[i][1],title:fTitles[i],titleY:811});
  profile({x0:fRightX[i][0],x1:fRightX[i][1],yb:957,yt:820,max:4,ticks:[0,1,2,3,4],xl:fxl,xlSize:10.5,home:fR[i][0],opto:fR[i][1],title:fTitles[i],titleY:811});
}
legendBox(700,829);
txt(svg,369,799,"enhancers",{anchor:"middle"});
txt(svg,17,890,"H3K27ac density",{anchor:"middle",rot:true});
txt(svg,389,890,"H2A.z density",{anchor:"middle",rot:true});
</script></body></html>
